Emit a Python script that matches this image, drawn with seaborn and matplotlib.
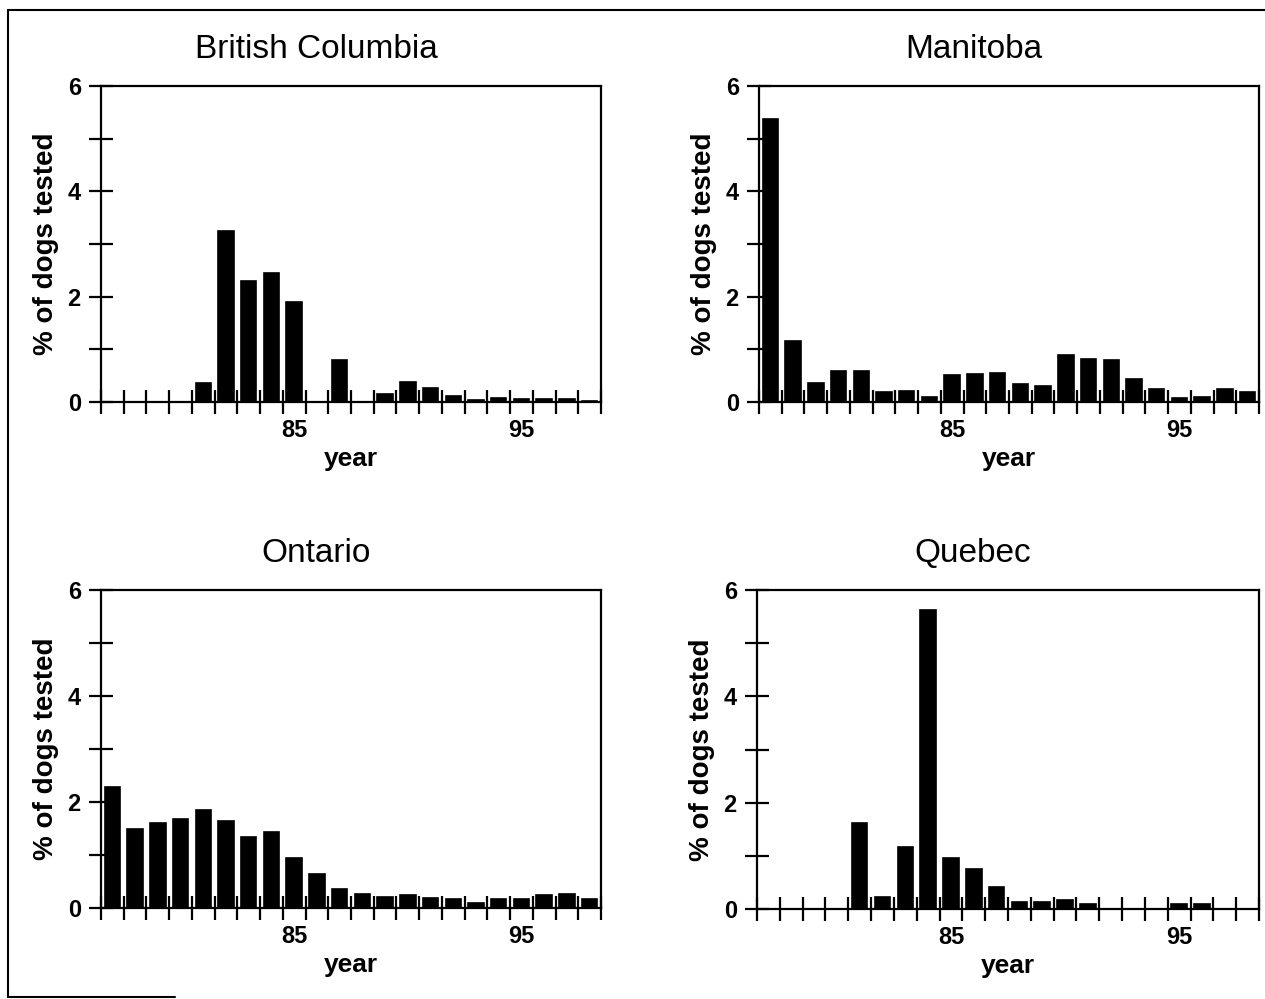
import numpy as np
import pandas as pd
import matplotlib.pyplot as plt
import seaborn as sns
from matplotlib.lines import Line2D
from matplotlib.ticker import FixedLocator, MultipleLocator

# données (% de chiens testés positifs, années 77-98)
years = [str(y) for y in range(77, 99)]
provinces = ['British Columbia', 'Manitoba', 'Ontario', 'Quebec']

bc = [0, 0, 0, 0, 0.37, 3.25, 2.3, 2.45, 1.9, 0, 0.8, 0,
      0.16, 0.38, 0.26, 0.12, 0.04, 0.08, 0.05, 0.05, 0.06, 0.02]
mb = [5.38, 1.15, 0.36, 0.59, 0.59, 0.19, 0.2, 0.09, 0.52, 0.53, 0.55,
      0.34, 0.31, 0.89, 0.82, 0.79, 0.43, 0.25, 0.07, 0.1, 0.25, 0.19]
on = [2.29, 1.49, 1.61, 1.67, 1.85, 1.64, 1.34, 1.43, 0.95, 0.64, 0.36,
      0.27, 0.21, 0.24, 0.18, 0.17, 0.1, 0.17, 0.17, 0.24, 0.26, 0.17]
qc = [0, 0, 0, 0, 1.62, 0.23, 1.17, 5.63, 0.96, 0.75, 0.41, 0.14,
      0.13, 0.16, 0.1, 0, 0, 0, 0.1, 0.1, 0, 0]
series = [bc, mb, on, qc]
labelled_years = ['85', '95']

sns.set_theme(style='white')
plt.rcParams['font.family'] = ['Liberation Sans', 'DejaVu Sans']
plt.rcParams['text.color'] = 'black'
plt.rcParams['axes.labelcolor'] = 'black'
plt.rcParams['xtick.color'] = 'black'
plt.rcParams['ytick.color'] = 'black'

W, H = 1265, 999
fig = plt.figure(figsize=(W / 100, H / 100), dpi=100)

# cadres des panneaux en pixels (gauche, haut, droite, bas)
boxes = [(101, 86, 601, 402), (759, 86, 1259, 402),
         (101, 590, 601, 908), (757, 590, 1259, 909)]

for name, vals, (l, t, r, b) in zip(provinces, series, boxes):
    ax = fig.add_axes([l / W, 1 - b / H, (r - l) / W, (b - t) / H])
    df = pd.DataFrame({'year': years, 'pct': vals})
    sns.barplot(data=df, x='year', y='pct', order=years, color='black',
                saturation=1, width=0.68, edgecolor='black', linewidth=1.2,
                ax=ax, zorder=3)
    for p in ax.patches:
        if p.get_height() == 0:
            p.set_linewidth(0)

    ax.set_xlim(-0.5, len(years) - 0.5)
    ax.set_ylim(0, 6)
    ax.xaxis.set_minor_locator(FixedLocator(np.arange(-0.5, len(years), 1)))
    ax.set_xticks([years.index(y) for y in labelled_years], labelled_years)
    ax.set_yticks([0, 2, 4, 6])
    ax.yaxis.set_minor_locator(MultipleLocator(1))

    ax.tick_params(axis='x', which='both', bottom=True)
    ax.tick_params(axis='y', which='both', left=True)
    ax.tick_params(axis='x', which='major', length=0, pad=12, labelsize=17)
    ax.tick_params(axis='x', which='minor', direction='inout', length=17,
                   width=1.6)
    ax.tick_params(axis='y', which='both', direction='inout', length=17,
                   width=1.6, labelsize=17, pad=6)
    for lab in ax.get_xticklabels() + ax.get_yticklabels():
        lab.set_fontweight('bold')

    for s in ax.spines.values():
        s.set_visible(True)
        s.set_color('black')
        s.set_linewidth(1.6)

    ax.set_xlabel('year', fontsize=19, fontweight='bold', labelpad=4)
    ax.set_ylabel('% of dogs tested', fontsize=20, fontweight='bold', labelpad=6)
    ax.set_title(name, fontsize=24, x=0.43, pad=20)

# cadre extérieur de la figure
kw = dict(transform=fig.transFigure, color='black', lw=1.5)
fig.add_artist(Line2D([8 / W, 8 / W], [1 - 10 / H, 1 - 997 / H], **kw))
fig.add_artist(Line2D([8 / W, 1], [1 - 10 / H, 1 - 10 / H], **kw))
fig.add_artist(Line2D([8 / W, 175 / W], [1 - 997 / H, 1 - 997 / H], **kw))

fig.savefig('out.png', dpi=100)
plt.close()
